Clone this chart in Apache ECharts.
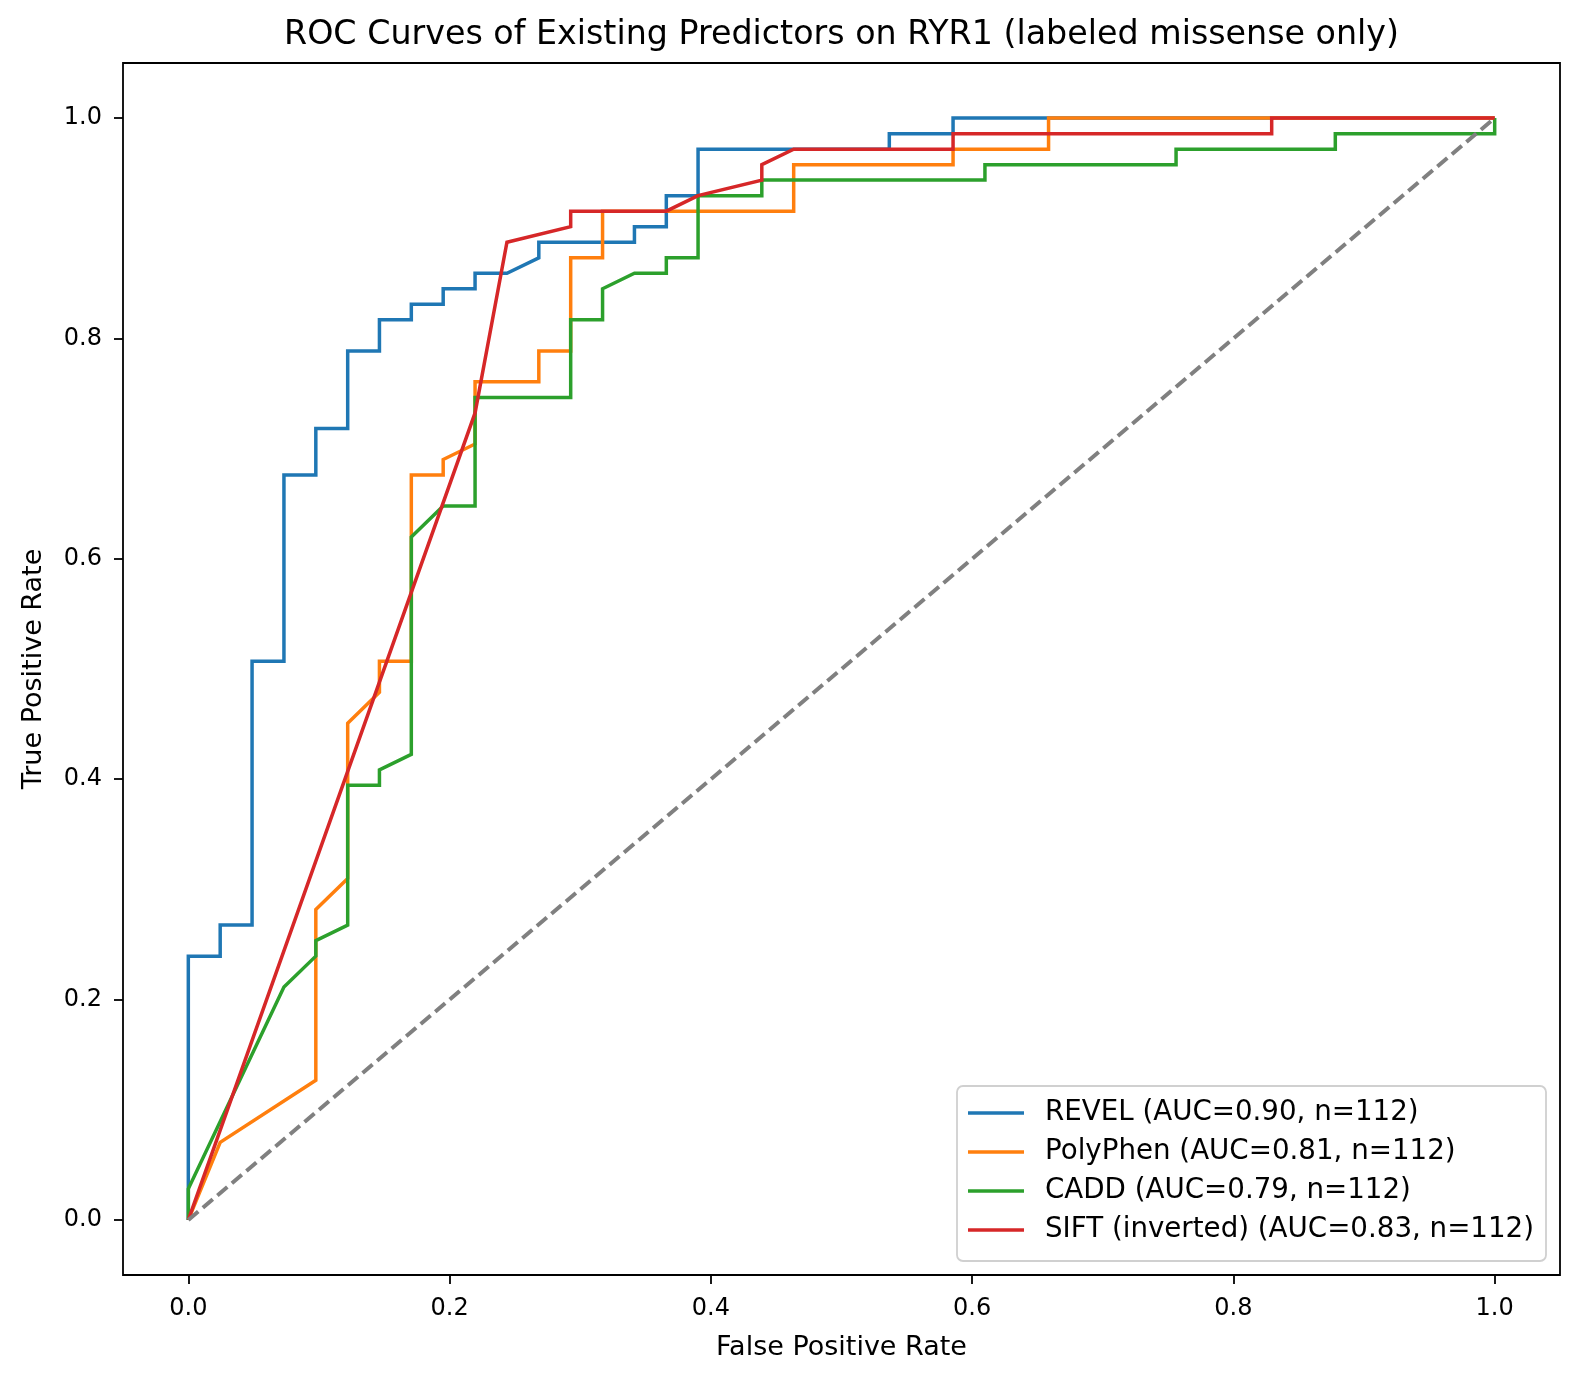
<!DOCTYPE html>
<html>
<head>
<meta charset="utf-8">
<script src="https://cdn.jsdelivr.net/npm/echarts@6/dist/echarts.min.js"></script>
<style>
html,body{margin:0;padding:0;background:#fff;}
#chart{width:1579px;height:1382px;}
</style>
</head>
<body>
<div id="chart"></div>
<script>
// ---- data ----
const titleText = 'ROC Curves of Existing Predictors on RYR1 (labeled missense only)';
const xName = 'False Positive Rate';
const yName = 'True Positive Rate';
const tickValues = [0, 0.2, 0.4, 0.6, 0.8, 1.0];

const revelName = 'REVEL (AUC=0.90, n=112)';
const revelFpr = [0,0,0.0244,0.0244,0.0488,0.0488,0.0732,0.0732,0.0976,0.0976,0.1220,0.1220,0.1463,0.1463,0.1707,0.1707,0.1951,0.1951,0.2195,0.2195,0.2439,0.2683,0.2683,0.3415,0.3415,0.3659,0.3659,0.3902,0.3902,0.5366,0.5366,0.5854,0.5854,1];
const revelTpr = [0,0.2394,0.2394,0.2676,0.2676,0.5070,0.5070,0.6761,0.6761,0.7183,0.7183,0.7887,0.7887,0.8169,0.8169,0.8310,0.8310,0.8451,0.8451,0.8592,0.8592,0.8732,0.8873,0.8873,0.9014,0.9014,0.9296,0.9296,0.9718,0.9718,0.9859,0.9859,1,1];

const polyName = 'PolyPhen (AUC=0.81, n=112)';
const polyFpr = [0,0.0244,0.0976,0.0976,0.1220,0.1220,0.1463,0.1463,0.1707,0.1707,0.1951,0.1951,0.2195,0.2195,0.2683,0.2683,0.2927,0.2927,0.3171,0.3171,0.4634,0.4634,0.5854,0.5854,0.6585,0.6585,1];
const polyTpr = [0,0.0704,0.1268,0.2817,0.3099,0.4507,0.4789,0.5070,0.5070,0.6761,0.6761,0.6901,0.7042,0.7606,0.7606,0.7887,0.7887,0.8732,0.8732,0.9155,0.9155,0.9577,0.9577,0.9718,0.9718,1,1];

const caddName = 'CADD (AUC=0.79, n=112)';
const caddFpr = [0,0,0.0732,0.0976,0.0976,0.1220,0.1220,0.1463,0.1463,0.1707,0.1707,0.1951,0.2195,0.2195,0.2927,0.2927,0.3171,0.3171,0.3415,0.3659,0.3659,0.3902,0.3902,0.4390,0.4390,0.6098,0.6098,0.7561,0.7561,0.8780,0.8780,1,1];
const caddTpr = [0,0.0282,0.2113,0.2394,0.2535,0.2676,0.3944,0.3944,0.4085,0.4225,0.6197,0.6479,0.6479,0.7465,0.7465,0.8169,0.8169,0.8451,0.8592,0.8592,0.8732,0.8732,0.9296,0.9296,0.9437,0.9437,0.9577,0.9577,0.9718,0.9718,0.9859,0.9859,1];

const siftName = 'SIFT (inverted) (AUC=0.83, n=112)';
const siftFpr = [0,0.2195,0.2439,0.2927,0.2927,0.3659,0.3902,0.4390,0.4390,0.4634,0.5854,0.5854,0.8293,0.8293,1];
const siftTpr = [0,0.7324,0.8873,0.9014,0.9155,0.9155,0.9296,0.9437,0.9577,0.9718,0.9718,0.9859,0.9859,1,1];

const chanceX = [0, 1];
const chanceY = [0, 1];

// ---- chart ----
const FONT = 'DejaVu Sans';
const pairs = (xs, ys) => xs.map((x, i) => [x, ys[i]]);

function curve(name, xs, ys, color) {
  return {
    name: name, type: 'line', data: pairs(xs, ys),
    symbol: 'none', showSymbol: false, smooth: false,
    lineStyle: { color: color, width: 3.5, cap: 'butt', join: 'miter' },
    itemStyle: { color: color },
    emphasis: { disabled: true }, animation: false, z: 2
  };
}

const chart = echarts.init(document.getElementById('chart'), null, { renderer: 'canvas' });
chart.setOption({
  backgroundColor: '#ffffff',
  animation: false,
  title: {
    text: titleText, left: 841.5, top: 19, textAlign: 'center', padding: 0,
    textStyle: { fontFamily: FONT, fontSize: 33.3, fontWeight: 'normal', color: '#000' }
  },
  grid: {
    left: 123, right: 19, top: 63, bottom: 107, show: true,
    borderColor: '#000', borderWidth: 1.8, backgroundColor: 'transparent'
  },
  legend: {
    data: [revelName, polyName, caddName, siftName],
    orient: 'vertical', right: 33, top: 1086,
    icon: 'rect',
    itemWidth: 56, itemHeight: 3.5, itemGap: 9,
    padding: [12, 12, 16, 11],
    backgroundColor: 'rgba(255,255,255,0.8)',
    borderColor: '#d0d0d0', borderWidth: 1.8, borderRadius: 6,
    textStyle: { fontFamily: FONT, fontSize: 27.7, color: '#000', lineHeight: 30, padding: [0, 0, 0, 16] }
  },
  xAxis: {
    type: 'value', min: -0.05, max: 1.05,
    name: xName, nameLocation: 'middle', nameGap: 59,
    nameTextStyle: { fontFamily: FONT, fontSize: 27, color: '#000' },
    axisLine: { show: false, onZero: false },
    axisTick: { show: true, customValues: tickValues, length: 9, lineStyle: { color: '#000', width: 1.8 } },
    axisLabel: { customValues: tickValues, margin: 22, fontFamily: FONT, fontSize: 24, color: '#000',
      formatter: v => v.toFixed(1) },
    splitLine: { show: false }
  },
  yAxis: {
    type: 'value', min: -0.05, max: 1.05,
    name: yName, nameLocation: 'middle', nameGap: 76,
    nameTextStyle: { fontFamily: FONT, fontSize: 27, color: '#000' },
    axisLine: { show: false, onZero: false },
    axisTick: { show: true, customValues: tickValues, length: 9, lineStyle: { color: '#000', width: 1.8 } },
    axisLabel: { customValues: tickValues, margin: 21, fontFamily: FONT, fontSize: 24, color: '#000',
      formatter: v => v.toFixed(1) },
    splitLine: { show: false }
  },
  series: [
    curve(revelName, revelFpr, revelTpr, '#1f77b4'),
    curve(polyName, polyFpr, polyTpr, '#ff7f0e'),
    curve(caddName, caddFpr, caddTpr, '#2ca02c'),
    curve(siftName, siftFpr, siftTpr, '#d62728'),
    {
      name: 'chance', type: 'line', data: pairs(chanceX, chanceY),
      symbol: 'none', showSymbol: false,
      lineStyle: { color: '#808080', width: 4, type: [13, 6] },
      emphasis: { disabled: true }, animation: false, z: 3
    }
  ]
});
</script>
</body>
</html>
